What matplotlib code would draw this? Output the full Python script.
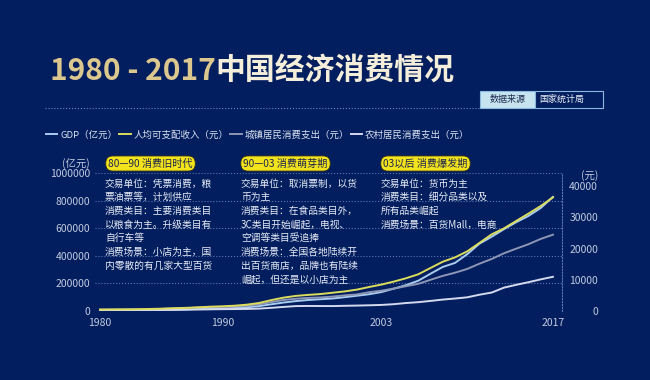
import matplotlib
matplotlib.use("Agg")
import matplotlib.pyplot as plt
from matplotlib.patches import Rectangle
from matplotlib.lines import Line2D

plt.rcParams['font.family'] = ['Noto Sans CJK SC', 'DejaVu Sans']

years = list(range(1980, 2018))

# GDP (亿元), 左轴
gdp = [4588, 4936, 5373, 6021, 7279, 9099, 10376, 12175, 15180, 17180,
       18873, 22006, 27195, 35673, 48638, 61340, 71814, 79715, 85196, 90564,
       100280, 110863, 121717, 137422, 161840, 187319, 219439, 270092, 319245, 348518,
       412119, 487940, 538580, 592963, 643563, 688858, 746395, 827122]
# 人均可支配收入 (元), 右轴
income = [478, 500, 535, 565, 652, 739, 901, 1002, 1180, 1374,
          1510, 1701, 2027, 2577, 3496, 4283, 4839, 5160, 5425, 5854,
          6280, 6860, 7703, 8472, 9422, 10493, 11760, 13786, 15781, 17175,
          19109, 21810, 24565, 26467, 28844, 31195, 33616, 36396]
# 城镇居民消费支出 (元)
urban = [412, 457, 471, 506, 559, 673, 799, 884, 1104, 1211,
         1279, 1454, 1672, 2111, 2851, 3538, 3920, 4186, 4332, 4616,
         4998, 5309, 6030, 6511, 7182, 7943, 8697, 9998, 11243, 12265,
         13472, 15161, 16674, 18488, 19968, 21392, 23079, 24445]
# 农村居民消费支出 (元)
rural = [162, 191, 220, 248, 274, 317, 357, 398, 477, 535,
         585, 620, 659, 770, 1017, 1310, 1572, 1617, 1590, 1577,
         1670, 1741, 1834, 1943, 2185, 2555, 2829, 3224, 3661, 3994,
         4382, 5221, 5908, 7485, 8383, 9223, 10130, 10955]

names = ["GDP（亿元）", "人均可支配收入（元）", "城镇居民消费支出（元）", "农村居民消费支出（元）"]
colors = ["#a9cdf0", "#dcdc5c", "#8e96b6", "#d4d9ee"]

left_ticks = [0, 200000, 400000, 600000, 800000, 1000000]
right_ticks = [0, 10000, 20000, 30000, 40000]
x_ticks = [1980, 1990, 2003, 2017]

periods = ["80—90 消费旧时代", "90—03 消费萌芽期", "03以后 消费爆发期"]
notes = [
    ["交易单位：凭票消费，粮", "票油票等，计划供应", "消费类目：主要消费类目",
     "以粮食为主。升级类目有", "自行车等", "消费场景：小店为主，国", "内零散的有几家大型百货"],
    ["交易单位：取消票制，以货", "币为主", "消费类目：在食品类目外，",
     "3C类目开始崛起，电视、", "空调等类目受追捧", "消费场景：全国各地陆续开",
     "出百货商店，品牌也有陆续", "崛起，但还是以小店为主"],
    ["交易单位：货币为主", "消费类目：细分品类以及", "所有品类崛起", "消费场景：百货Mall，电商"],
]

bg = "#021e5e"
W, H = 650, 380
fig = plt.figure(figsize=(6.5, 3.8), dpi=100, facecolor=bg)

def fx(px):
    return px / W

def fy(py):
    return 1 - py / H

ax = fig.add_axes([fx(95), fy(311), fx(562) - fx(95), fy(173) - fy(311)])
ax.set_facecolor("none")
ax2 = ax.twinx()

l_gdp, = ax.plot(years, gdp, color=colors[0], lw=1.4, zorder=3)
l_urb, = ax2.plot(years, urban, color=colors[2], lw=1.4, zorder=2)
l_rur, = ax2.plot(years, rural, color=colors[3], lw=1.4, zorder=2)
l_inc, = ax2.plot(years, income, color=colors[1], lw=1.4, zorder=4)

ax.set_xlim(1979.59, 2017.74)
ax.set_ylim(0, 1000000)
ax2.set_ylim(0, 44200)

tick_col = "#c3cbe0"
ax.set_xticks(x_ticks)
ax.set_xticklabels([str(y) for y in x_ticks])
ax.set_yticks(left_ticks)
ax.set_yticklabels([str(v) for v in left_ticks])
ax2.set_yticks(right_ticks)
ax2.set_yticklabels([str(v) for v in right_ticks])
ax.tick_params(axis='x', length=0, pad=5, labelsize=7.5, labelcolor=tick_col)
ax.tick_params(axis='y', length=0, pad=3.6, labelsize=7.5, labelcolor=tick_col)
ax2.tick_params(axis='y', length=0, pad=26, labelsize=7.5, labelcolor=tick_col)
for lab in ax2.get_yticklabels():
    lab.set_horizontalalignment('right')

ax.grid(axis='y', linestyle=':', color="#5d78b4", lw=0.8)
for sp in ax.spines.values():
    sp.set_visible(False)
for name, sp in ax2.spines.items():
    sp.set_visible(name == 'right')
ax2.spines['right'].set_linestyle(':')
ax2.spines['right'].set_color("#5d78b4")
ax2.spines['right'].set_linewidth(0.8)

fig.text(fx(90), fy(164), "(亿元)", ha='right', va='center', fontsize=7.5, color=tick_col)
fig.text(fx(590), fy(176), "(元)", ha='center', va='center', fontsize=7.5, color=tick_col)

# title
t1 = fig.text(fx(50), fy(71), "1980 - 2017", ha='left', va='center', fontsize=21.5,
              fontweight='bold', color="#dcc78f")
fig.canvas.draw()
bb = t1.get_window_extent(fig.canvas.get_renderer())
fig.text(bb.x1 / W, fy(71), "中国经济消费情况", ha='left', va='center', fontsize=21.5,
         fontweight='bold', color="#f4eedb")

# dotted separator and source box
fig.add_artist(Line2D([fx(45), fx(480)], [fy(108), fy(108)], color="#6f86c0",
                      lw=0.8, linestyle=':'))
fig.add_artist(Rectangle((fx(480), fy(108)), fx(55), 17 / H, facecolor="#c6e4ef",
                         edgecolor="#8fb8e0", lw=0.8))
fig.add_artist(Rectangle((fx(535), fy(108)), fx(68), 17 / H, facecolor=bg,
                         edgecolor="#8fb8e0", lw=0.8))
fig.text(fx(507.5), fy(99.5), "数据来源", ha='center', va='center', fontsize=6.5, color="#1d2a4f")
fig.text(fx(539), fy(99.5), "国家统计局", ha='left', va='center', fontsize=6.5, color="#eef2fa")

# legend
fig.legend([l_gdp, l_inc, l_urb, l_rur], names, loc='center left',
           bbox_to_anchor=(fx(46), fy(135)), ncol=4, frameon=False,
           handlelength=1.2, handletextpad=0.3, columnspacing=0.2,
           borderpad=0, borderaxespad=0, fontsize=6.8, labelcolor="#dde3f0")

# period pills and notes
pill_x = [150.5, 285.5, 425.5]
note_x = [105, 241, 381]
for px, label in zip(pill_x, periods):
    fig.text(fx(px), fy(163.5), label, ha='center', va='center', fontsize=7.3,
             color="#1b2350",
             bbox=dict(boxstyle="round,pad=0.25,rounding_size=0.7", fc="#f3e31c",
                       ec="#2a2a20", lw=0.6))
for nx, lines in zip(note_x, notes):
    for i, line in enumerate(lines):
        fig.text(fx(nx), fy(183.5 + i * 13.7), line, ha='left', va='center',
                 fontsize=7, color="#e8ecf6")

fig.savefig("out.png", dpi=100, facecolor=bg)
